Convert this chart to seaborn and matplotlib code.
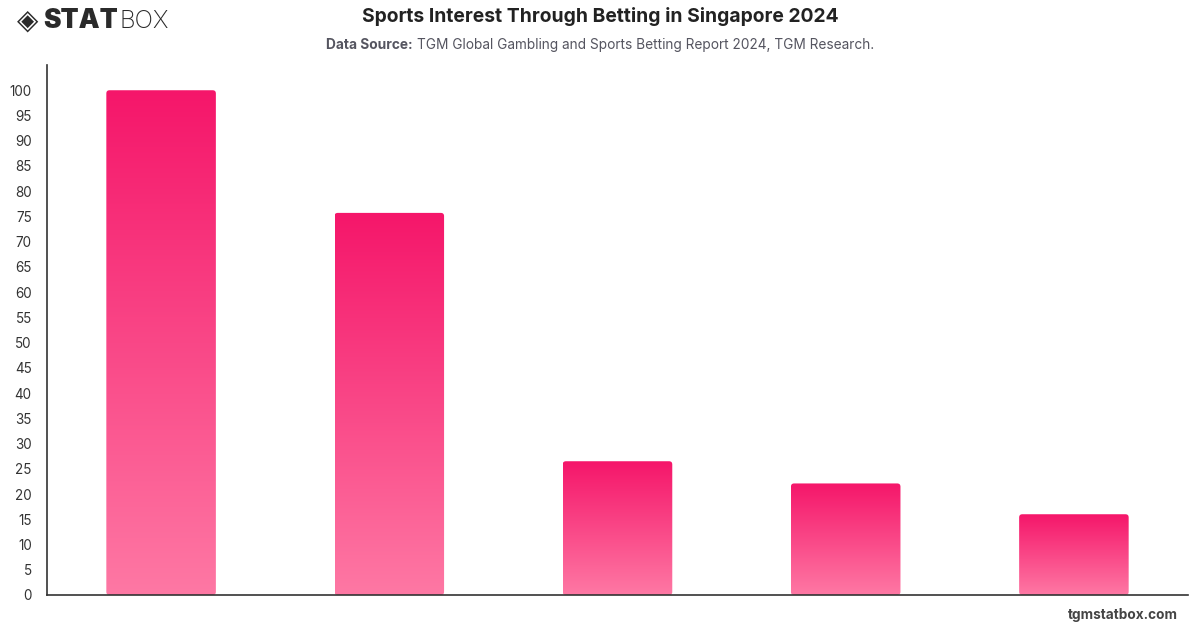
import numpy as np
import pandas as pd
import matplotlib
matplotlib.use('Agg')
import matplotlib.pyplot as plt
from matplotlib.patches import FancyBboxPatch
from matplotlib.colors import LinearSegmentedColormap
import seaborn as sns

# data (category names are not shown on the chart)
sports = ['Sport 1', 'Sport 2', 'Sport 3', 'Sport 4', 'Sport 5']
interest = [100, 75.7, 26.5, 22.1, 16.0]
yticks = list(range(0, 105, 5))

df = pd.DataFrame({'sport': sports, 'interest': interest})

sns.set_theme(style='white')
plt.rcParams['font.family'] = ['Inter', 'DejaVu Sans']

fig = plt.figure(figsize=(12, 6.28), dpi=100)
ax = fig.add_axes([47/1200, 33/628, (1188-47)/1200, (595-65)/628])

sns.barplot(data=df, x='sport', y='interest', ax=ax, width=0.48, color='#F5176A')

grad = LinearSegmentedColormap.from_list('pk', ['#FE78A4', '#F5166A'])
ymax = 105
aspect = (1141/5) / (530/ymax)
for p in list(ax.patches):
    x0, w, h = p.get_x(), p.get_width(), p.get_height()
    p.set_visible(False)
    clip = FancyBboxPatch((x0, 0), w, h, boxstyle='round,pad=0,rounding_size=0.014',
                          mutation_aspect=aspect, facecolor='none', edgecolor='none',
                          transform=ax.transData)
    ax.add_patch(clip)
    img = ax.imshow(np.linspace(0, 1, 256).reshape(-1, 1), cmap=grad, origin='lower',
                    extent=(x0, x0 + w, 0, h), aspect='auto', zorder=2)
    img.set_clip_path(clip)

ax.set_xlim(-0.5, 4.5)
ax.set_ylim(0, ymax)
ax.set_yticks(yticks)
ax.set_xticks([])
ax.set_xlabel('')
ax.set_ylabel('')
ax.tick_params(axis='y', length=0, pad=11, labelsize=9.7, labelcolor='#333333')
sns.despine(ax=ax, top=True, right=True)
for s in ['left', 'bottom']:
    ax.spines[s].set_color('#333333')
    ax.spines[s].set_linewidth(1.2)

fig.text(0.5, 1 - 17/628, 'Sports Interest Through Betting in Singapore 2024',
         ha='center', va='center', fontsize=13.9, fontweight='bold', color='#222222')
fig.text(413/1200, 1 - 45/628, 'Data Source:', ha='right', va='center',
         fontsize=9.9, fontweight='bold', color='#555560')
fig.text(417/1200, 1 - 45/628, 'TGM Global Gambling and Sports Betting Report 2024, TGM Research.',
         ha='left', va='center', fontsize=9.85, color='#555560')

# logo
fig.text(17/1200, 1 - 21/628, '\u25c8', ha='left', va='center', fontsize=20,
         color='#2a2a2a', family='DejaVu Sans')
fig.text(43/1200, 1 - 21/628, 'STAT', ha='left', va='center', fontsize=19,
         fontweight='black', color='#2a2a2a')
fig.text(119/1200, 1 - 21/628, 'BOX', ha='left', va='center', fontsize=17.5,
         fontweight='light', color='#2a2a2a')

fig.text(1178/1200, 1 - 615/628, 'tgmstatbox.com', ha='right', va='center',
         fontsize=9.8, fontweight='bold', color='#444444')

fig.savefig('out.png', dpi=100)
